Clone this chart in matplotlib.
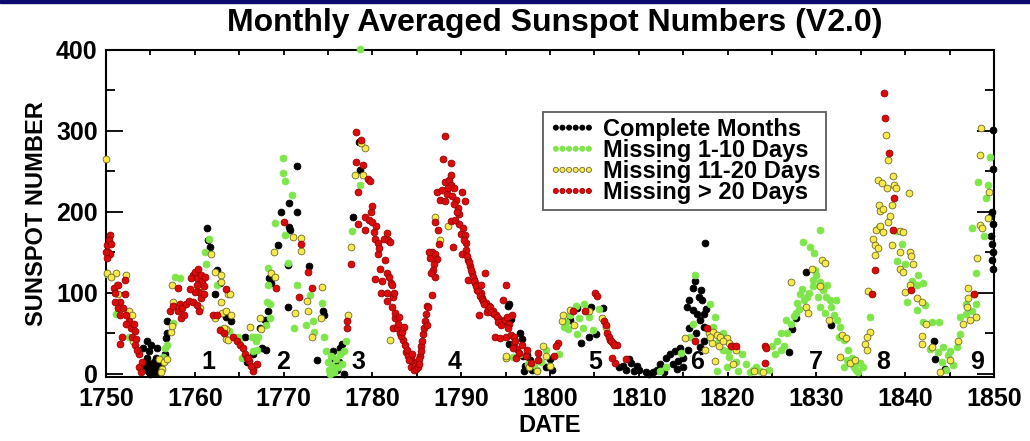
import matplotlib.pyplot as plt
from matplotlib.patches import Rectangle
from matplotlib.ticker import MultipleLocator

plt.rcParams['font.family'] = ['Liberation Sans', 'DejaVu Sans']
plt.rcParams['font.weight'] = 'bold'

# (year, sunspot number)
complete = [
    (1754.6, 40), (1754.2, 32), (1755.1, 36), (1754.9, 28), (1754.6, 20), (1754.9, 12), (1755.2, 10),
    (1755.6, 6), (1754.7, 4), (1755.0, 0), (1755.6, 20), (1755.9, 14), (1755.7, 32), (1756.6, 24),
    (1756.9, 50), (1756.8, 44), (1756.9, 65), (1755.3, 2), (1755.4, 15), (1754.4, 10), (1755.8, 2),
    (1756.2, 8), (1761.4, 180), (1761.5, 165), (1761.7, 157), (1762.5, 128), (1762.3, 99), (1762.8, 112),
    (1764.1, 65), (1765.6, 46), (1766.6, 24), (1765.9, 14), (1763.5, 70), (1767.6, 32), (1767.3, 56),
    (1767.9, 67), (1768.3, 77), (1768.6, 112), (1768.4, 118), (1769.4, 159), (1769.7, 200), (1770.6, 211),
    (1771.5, 200), (1771.5, 256), (1770.7, 177), (1770.6, 181), (1770.5, 134), (1772.9, 133), (1770.5, 83),
    (1774.5, 72), (1774.4, 78), (1773.8, 17), (1768.0, 30), (1775.4, 20), (1776.3, 32), (1776.6, 37),
    (1775.8, 10), (1776.0, 5), (1776.2, 15), (1776.8, 0), (1775.6, 28), (1777.8, 194), (1778.6, 252),
    (1778.5, 286), (1795.3, 84), (1795.4, 86), (1795.6, 68), (1795.4, 37), (1796.9, 43), (1797.4, 23),
    (1797.8, 17), (1797.1, 3), (1796.6, 50), (1797.0, 22), (1797.2, 10), (1798.0, 5), (1800.0, 18),
    (1802.2, 67), (1803.0, 81), (1804.6, 83), (1803.5, 38), (1804.4, 46), (1805.2, 49), (1806.0, 81),
    (1799.5, 8), (1800.2, 5), (1808.2, 10), (1808.6, 5), (1809.1, 13), (1809.5, 3), (1810.0, 5),
    (1810.8, 2), (1811.2, 0), (1811.6, 2), (1808.9, 18), (1809.8, 10), (1807.8, 8), (1812.0, 5),
    (1812.4, 12), (1813.1, 20), (1813.5, 24), (1814.1, 28), (1814.6, 32), (1814.4, 16), (1815.0, 20),
    (1815.0, 8), (1815.7, 56), (1816.1, 79), (1815.4, 83), (1816.3, 114), (1816.1, 106), (1815.7, 91),
    (1816.8, 95), (1817.1, 91), (1816.6, 74), (1816.9, 67), (1817.4, 74), (1817.6, 80), (1817.5, 161),
    (1817.4, 58), (1817.3, 41), (1816.9, 33), (1813.8, 12), (1814.3, 6), (1812.8, 2), (1815.5, 30),
    (1816.4, 50), (1817.0, 104), (1826.9, 27), (1827.7, 69), (1828.8, 126), (1831.6, 60), (1827.3, 55),
    (1843.2, 41), (1843.4, 18), (1844.5, 6), (1849.9, 301), (1849.9, 253), (1849.8, 200), (1849.9, 185),
    (1849.7, 170), (1849.8, 160), (1849.9, 150), (1849.8, 140), (1849.9, 130), (1849.7, 195),
]

miss_1_10 = [
    (1750.1, 123), (1751.1, 74), (1752.6, 45), (1756.4, 21), (1756.6, 32), (1756.9, 35), (1757.6, 63),
    (1757.8, 83), (1757.8, 120), (1758.3, 118), (1761.3, 135), (1761.6, 167), (1761.2, 151), (1762.9, 55),
    (1763.9, 53), (1762.5, 110), (1764.9, 45), (1765.0, 40), (1765.3, 20), (1766.6, 28), (1766.9, 40),
    (1766.4, 45), (1766.8, 45), (1767.1, 45), (1767.0, 30), (1768.1, 89), (1768.5, 86), (1768.5, 69),
    (1768.2, 110), (1768.3, 131), (1769.0, 186), (1769.9, 267), (1769.9, 248), (1770.2, 238), (1771.0, 221),
    (1770.2, 172), (1770.5, 137), (1771.5, 110), (1773.0, 97), (1774.3, 88), (1771.2, 57), (1772.5, 60),
    (1773.3, 65), (1773.4, 52), (1774.6, 45), (1768.0, 60), (1774.8, 28), (1775.0, 15), (1775.1, 5),
    (1775.3, 22), (1775.5, 10), (1775.7, 2), (1775.9, 18), (1776.1, 8), (1776.4, 25), (1776.6, 12),
    (1775.2, 0), (1776.8, 28), (1777.0, 40), (1777.7, 176), (1778.6, 401), (1778.6, 233), (1795.8, 21),
    (1796.6, 25), (1797.5, 12), (1798.2, 11), (1798.5, 5), (1799.6, 30), (1801.0, 25), (1801.8, 64),
    (1801.6, 58), (1802.3, 73), (1802.9, 84), (1803.8, 86), (1805.5, 80), (1803.3, 69), (1803.7, 57),
    (1804.8, 54), (1803.1, 49), (1802.0, 55), (1804.4, 70), (1799.0, 15), (1813.1, 8), (1814.8, 26),
    (1812.4, 4), (1816.1, 62), (1816.3, 122), (1818.0, 86), (1819.5, 50), (1818.4, 58), (1819.5, 30),
    (1820.2, 21), (1821.6, 25), (1818.8, 3), (1819.9, 8), (1821.2, 4), (1822.1, 12), (1822.5, 2),
    (1823.6, 3), (1824.7, 5), (1819.0, 40), (1820.0, 28), (1821.0, 15), (1822.9, 5), (1823.2, 8),
    (1818.6, 70), (1815.8, 45), (1825.0, 34), (1825.6, 40), (1826.3, 34), (1826.0, 50), (1826.7, 50),
    (1827.1, 62), (1826.6, 67), (1827.5, 71), (1827.8, 87), (1828.2, 99), (1827.7, 75), (1828.4, 105),
    (1828.6, 91), (1829.0, 95), (1829.6, 108), (1829.6, 116), (1829.8, 128), (1830.4, 178), (1828.5, 163),
    (1829.3, 157), (1829.7, 149), (1830.0, 122), (1830.4, 113), (1830.8, 103), (1831.1, 95), (1831.5, 91),
    (1831.7, 83), (1832.2, 91), (1830.4, 83), (1831.0, 75), (1832.0, 72), (1832.3, 66), (1832.7, 58),
    (1833.1, 42), (1833.6, 30), (1833.5, 17), (1834.2, 9), (1834.5, 5), (1834.9, 13), (1834.7, 2),
    (1833.1, 9), (1825.3, 25), (1826.0, 30), (1828.0, 80), (1829.2, 100), (1830.2, 95), (1831.2, 110),
    (1832.6, 45), (1834.0, 20), (1835.2, 8), (1836.0, 70), (1837.0, 181), (1839.0, 176), (1839.1, 139),
    (1840.0, 135), (1840.2, 89), (1841.5, 122), (1841.3, 110), (1842.0, 112), (1841.3, 79), (1842.2, 85),
    (1842.0, 64), (1843.0, 64), (1843.8, 64), (1842.8, 31), (1843.7, 27), (1844.1, 14), (1844.3, 33),
    (1844.8, 23), (1845.4, 11), (1845.8, 33), (1846.2, 49), (1846.2, 70), (1846.8, 74), (1846.8, 86),
    (1847.7, 98), (1848.0, 86), (1847.5, 78), (1848.0, 124), (1847.5, 180), (1848.9, 170), (1848.2, 237),
    (1849.3, 233), (1849.1, 217), (1849.6, 268), (1844.6, 5), (1845.0, 28), (1840.8, 115), (1839.6, 160),
]

miss_11_20 = [
    (1750.0, 265), (1750.1, 125), (1751.1, 124), (1751.2, 110), (1751.4, 98), (1752.3, 122), (1752.6, 78),
    (1752.9, 73), (1753.0, 40), (1750.6, 120), (1756.0, 18), (1756.5, 14), (1756.9, 18), (1756.3, 6),
    (1756.2, 2), (1757.3, 52), (1757.4, 59), (1757.6, 89), (1757.4, 110), (1760.6, 81), (1761.8, 148),
    (1762.3, 126), (1763.0, 113), (1763.7, 99), (1764.0, 98), (1762.3, 69), (1763.1, 75), (1763.0, 89),
    (1763.5, 78), (1764.1, 73), (1763.5, 55), (1763.3, 57), (1763.5, 43), (1763.7, 42), (1766.2, 58),
    (1760.6, 104), (1763.0, 122), (1767.3, 69), (1767.5, 55), (1768.6, 125), (1769.0, 120), (1768.9, 150),
    (1772.0, 168), (1772.0, 152), (1774.3, 107), (1772.6, 90), (1772.8, 78), (1774.2, 69), (1771.3, 75),
    (1773.2, 45), (1771.1, 169), (1777.2, 73), (1777.6, 157), (1779.2, 279), (1779.0, 246), (1778.0, 246),
    (1782.0, 42), (1778.7, 285), (1787.1, 194), (1787.6, 165), (1788.5, 182), (1795.1, 19), (1797.6, 8),
    (1795.1, 22), (1798.5, 3), (1799.2, 34), (1799.6, 22), (1801.3, 65), (1801.5, 73), (1802.2, 79),
    (1804.4, 77), (1805.9, 69), (1802.7, 60), (1806.3, 58), (1800.0, 10), (1815.2, 44), (1817.9, 50),
    (1818.4, 52), (1818.8, 48), (1819.2, 46), (1819.9, 44), (1820.2, 38), (1820.6, 34), (1818.3, 38),
    (1819.0, 34), (1818.6, 16), (1820.6, 12), (1824.0, 2), (1823.0, 3), (1819.5, 40), (1821.0, 30),
    (1818.0, 45), (1817.5, 30), (1827.1, 113), (1828.8, 83), (1829.1, 75), (1830.6, 141), (1831.0, 137),
    (1830.4, 109), (1831.4, 67), (1832.9, 48), (1833.3, 44), (1832.7, 21), (1833.8, 13), (1834.3, 17),
    (1829.5, 130), (1835.8, 102), (1836.0, 52), (1835.7, 45), (1835.5, 37), (1835.7, 29), (1836.6, 147),
    (1836.4, 167), (1836.6, 159), (1836.9, 155), (1836.7, 177), (1837.0, 209), (1837.2, 201), (1837.5, 203),
    (1837.2, 183), (1837.5, 175), (1837.8, 295), (1838.1, 264), (1836.9, 239), (1837.4, 235), (1837.9, 229),
    (1838.6, 244), (1838.8, 233), (1839.0, 229), (1838.5, 209), (1840.4, 223), (1838.1, 188), (1838.5, 159),
    (1839.4, 176), (1839.8, 175), (1839.4, 151), (1840.5, 151), (1840.7, 145), (1840.9, 135), (1839.4, 130),
    (1839.8, 126), (1840.5, 110), (1840.0, 101), (1841.3, 93), (1841.9, 89), (1842.4, 62), (1841.9, 47),
    (1841.9, 37), (1843.9, 2), (1843.0, 33), (1845.0, 17), (1846.0, 41), (1846.5, 62), (1847.0, 82),
    (1847.1, 94), (1847.1, 106), (1848.0, 70), (1847.3, 66), (1848.1, 143), (1848.4, 184), (1848.7, 180),
    (1849.3, 192), (1849.4, 225), (1848.4, 270), (1848.5, 303), (1838.3, 195),
]

miss_gt_20 = [
    (1750.1, 159), (1750.2, 151), (1750.4, 148), (1750.1, 143), (1750.5, 172), (1750.3, 165), (1750.0, 150),
    (1750.6, 160), (1750.9, 106), (1751.0, 100), (1751.4, 110), (1751.6, 89), (1751.0, 89), (1751.4, 81),
    (1751.9, 81), (1751.6, 73), (1752.1, 116), (1752.1, 98), (1752.2, 73), (1752.6, 65), (1752.2, 61),
    (1752.8, 57), (1753.1, 61), (1753.3, 53), (1751.8, 45), (1751.6, 37), (1752.9, 45), (1753.4, 43),
    (1753.3, 35), (1753.7, 25), (1753.7, 8), (1753.9, 2), (1753.5, 30), (1754.0, 14),
    (1757.2, 77), (1757.5, 84), (1758.1, 77), (1758.3, 86), (1758.6, 81), (1759.0, 86), (1758.4, 69),
    (1758.8, 72), (1759.3, 90), (1758.1, 106), (1759.8, 122), (1760.0, 126), (1759.6, 118), (1760.2, 118),
    (1760.3, 110), (1760.7, 122), (1760.5, 101), (1760.0, 101), (1759.8, 89), (1760.3, 85), (1760.7, 93),
    (1761.0, 99), (1760.8, 114), (1760.5, 77), (1759.5, 105), (1760.4, 130), (1761.0, 108), (1761.2, 120),
    (1762.1, 73), (1762.5, 73), (1762.8, 54), (1763.5, 105), (1763.3, 50), (1764.3, 46), (1764.8, 40),
    (1765.1, 36), (1765.4, 32), (1765.7, 24), (1766.1, 16), (1766.5, 7), (1766.6, 4), (1765.9, 20),
    (1766.3, 10), (1766.0, 20), (1769.2, 106), (1770.0, 188), (1771.7, 95), (1772.0, 160), (1772.7, 126),
    (1773.2, 106), (1767.0, 12),
    (1777.1, 65), (1777.1, 57), (1777.6, 136), (1778.2, 299), (1778.7, 289), (1778.2, 261), (1778.9, 258),
    (1779.5, 241), (1779.7, 238), (1778.4, 224), (1780.0, 207), (1779.2, 194), (1779.6, 190), (1780.0, 188),
    (1780.4, 183), (1779.2, 178), (1778.4, 185), (1781.6, 174), (1780.3, 167), (1780.6, 162), (1781.3, 167),
    (1781.8, 165), (1780.6, 148), (1780.9, 130), (1781.6, 125), (1781.1, 115), (1782.1, 112), (1780.3, 117),
    (1781.0, 100), (1781.6, 90), (1782.2, 83), (1782.3, 57), (1782.0, 163), (1782.2, 110), (1782.3, 95),
    (1782.5, 69), (1782.8, 57), (1783.1, 50), (1783.5, 42), (1783.7, 35), (1783.8, 27), (1784.3, 20),
    (1784.6, 13), (1785.0, 14), (1785.4, 22), (1785.5, 34), (1785.7, 49), (1785.8, 57), (1786.0, 74),
    (1786.2, 84), (1786.7, 97), (1786.3, 82), (1779.9, 200), (1780.2, 175), (1780.8, 155), (1781.4, 140),
    (1781.9, 120), (1782.6, 75), (1782.9, 62), (1783.2, 47), (1783.3, 52), (1783.9, 30), (1784.0, 22),
    (1784.1, 17), (1784.4, 8), (1784.7, 5), (1784.8, 10), (1784.9, 6), (1785.1, 8), (1785.2, 18),
    (1785.3, 12), (1785.6, 40), (1785.9, 65), (1786.1, 60), (1784.5, 25), (1783.6, 58), (1782.4, 100),
    (1781.7, 100), (1783.0, 70), (1785.5, 28),
    (1786.5, 143), (1786.7, 151), (1787.0, 148), (1787.3, 142), (1786.9, 136), (1787.1, 188), (1787.4, 178),
    (1788.2, 293), (1788.0, 265), (1788.8, 260), (1788.2, 237), (1788.6, 239), (1788.9, 233), (1787.3, 225),
    (1787.8, 227), (1787.6, 215), (1788.2, 213), (1789.4, 215), (1790.1, 225), (1790.4, 213), (1789.6, 205),
    (1789.8, 197), (1788.8, 189), (1789.8, 185), (1790.0, 173), (1790.4, 171), (1789.1, 157), (1790.5, 161),
    (1790.6, 153), (1790.1, 148), (1790.8, 141), (1791.0, 133), (1791.2, 125), (1792.7, 124), (1791.4, 116),
    (1791.6, 112), (1790.8, 116), (1791.8, 104), (1792.2, 100), (1792.4, 94), (1792.8, 88), (1793.1, 84),
    (1793.6, 78), (1793.9, 72), (1794.3, 68), (1795.1, 110), (1792.0, 72), (1792.9, 76), (1794.7, 64),
    (1793.8, 46), (1794.4, 44), (1795.0, 46), (1795.6, 48), (1796.0, 38), (1796.3, 31), (1796.2, 20),
    (1796.9, 35), (1787.0, 120), (1786.8, 128), (1788.4, 222), (1788.5, 230), (1789.0, 220), (1789.2, 210),
    (1789.5, 200), (1789.3, 190), (1790.2, 180), (1790.3, 165), (1790.7, 145), (1791.1, 128), (1791.3, 120),
    (1791.5, 114), (1791.7, 108), (1791.9, 102), (1792.1, 96), (1792.3, 92), (1792.5, 90), (1792.6, 86),
    (1793.0, 80), (1793.2, 82), (1793.4, 76), (1793.7, 74), (1794.0, 70), (1794.2, 64), (1794.5, 60),
    (1794.9, 66), (1795.2, 70), (1795.4, 62), (1795.7, 72), (1795.3, 56), (1794.7, 91), (1795.8, 32),
    (1795.9, 46), (1796.1, 40), (1796.5, 26), (1797.3, 22), (1797.4, 30), (1797.9, 13), (1798.7, 17),
    (1798.7, 26), (1788.9, 245), (1789.2, 230), (1787.5, 160), (1786.4, 150), (1786.6, 125), (1790.9, 138),
    (1792.2, 110),
    (1800.9, 38), (1800.7, 34), (1802.6, 77), (1804.0, 77), (1805.1, 100), (1805.3, 96), (1806.1, 65),
    (1806.3, 60), (1806.4, 50), (1806.8, 42), (1807.1, 38), (1807.5, 36), (1807.3, 13), (1808.6, 18),
    (1807.0, 20), (1806.6, 45), (1806.9, 40), (1807.2, 35), (1800.5, 22),
    (1816.3, 41), (1817.7, 56), (1820.4, 34), (1820.9, 34), (1824.2, 34), (1824.3, 32), (1824.2, 13),
    (1836.3, 98), (1836.6, 128), (1837.6, 347), (1837.7, 316), (1838.2, 273), (1838.7, 217), (1838.6, 178),
    (1840.7, 104), (1847.8, 99),
]

cycle_labels = ['1', '2', '3', '4', '5', '6', '7', '8', '9']
cycle_years = [1761.5, 1769.9, 1778.4, 1789.3, 1805.1, 1816.6, 1830.0, 1837.5, 1848.1]

series = [
    ('Complete Months', complete, '#000000', '#000000'),
    ('Missing 1-10 Days', miss_1_10, '#7ee64a', '#7ee64a'),
    ('Missing 11-20 Days', miss_11_20, '#f6ea4a', '#6e6a2a'),
    ('Missing > 20 Days', miss_gt_20, '#dc0b0b', '#9a0000'),
]

fig = plt.figure(figsize=(10.3, 4.41), dpi=100)
ax = fig.add_axes([0.1029, 0.145, 0.8621, 0.742])

for label, pts, fc, ec in series:
    x, y = zip(*pts)
    ax.scatter(x, y, s=24, c=fc, edgecolors=ec, linewidths=0.6, label=label, clip_on=False, zorder=3)

for lab, yr in zip(cycle_labels, cycle_years):
    ax.text(yr, 14, lab, ha='center', va='center', fontsize=18, fontweight='bold')

ax.set_xlim(1750, 1850)
ax.set_ylim(-4, 400)
ax.xaxis.set_major_locator(MultipleLocator(10))
ax.xaxis.set_minor_locator(MultipleLocator(5))
ax.yaxis.set_major_locator(MultipleLocator(100))
ax.yaxis.set_minor_locator(MultipleLocator(50))
ax.tick_params(axis='both', which='both', direction='in', top=True, right=True, width=1.3)
ax.tick_params(axis='x', which='both', length=3.5, pad=7, labelsize=18)
ax.tick_params(axis='y', which='major', length=12, pad=6, labelsize=18)
ax.tick_params(axis='y', which='minor', length=6.5)
for lab in ax.get_xticklabels() + ax.get_yticklabels():
    lab.set_fontweight('bold')
for sp in ax.spines.values():
    sp.set_linewidth(1.5)

ax.set_xlabel('DATE', fontsize=17, fontweight='bold', labelpad=2)
ax.set_ylabel('SUNSPOT NUMBER', fontsize=17, fontweight='bold', labelpad=6)
fig.text(0.539, 0.948, 'Monthly Averaged Sunspot Numbers (V2.0)', ha='center', va='center',
         fontsize=23, fontweight='bold')

leg = ax.legend(loc='upper left', bbox_to_anchor=(0.492, 0.81), borderaxespad=0,
                scatterpoints=6, scatteryoffsets=[0.5], markerscale=0.75, fontsize=17,
                handlelength=2.0, handletextpad=0.3, labelspacing=-0.08, borderpad=0.25,
                fancybox=False, frameon=True)
leg.get_frame().set_edgecolor('#333333')
leg.get_frame().set_linewidth(1.3)
for t in leg.get_texts():
    t.set_fontweight('bold')

fig.patches.append(Rectangle((0, 1 - 3 / 441), 1, 3 / 441, transform=fig.transFigure,
                             color='#0b0b70', zorder=10))

fig.savefig('out.png', dpi=100)
